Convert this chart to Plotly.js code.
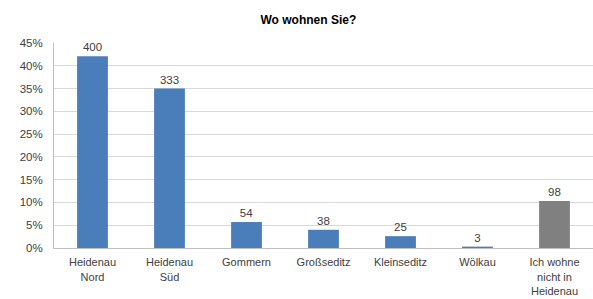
<!DOCTYPE html>
<html><head><meta charset="utf-8">
<script src="https://cdn.plot.ly/plotly-3.0.1.min.js"></script>
<style>html,body{margin:0;padding:0;background:#fff}#chart{width:593px;height:299px}</style>
</head><body><div id="chart"></div>
<script>
const categories = ["Heidenau<br>Nord", "Heidenau<br>Süd", "Gommern", "Großseditz", "Kleinseditz", "Wölkau", "Ich wohne<br>nicht in<br>Heidenau"];
const counts = [400, 333, 54, 38, 25, 3, 98];
const shares = [0.421, 0.350, 0.057, 0.040, 0.026, 0.003, 0.103];
const barColors = ["#4A7EBB", "#4A7EBB", "#4A7EBB", "#4A7EBB", "#4A7EBB", "#4A7EBB", "#808080"];
const yTicks = [0, 0.05, 0.10, 0.15, 0.20, 0.25, 0.30, 0.35, 0.40, 0.45];

const trace = {
  type: 'bar', x: categories, y: shares,
  text: counts.map(String), textposition: 'outside', cliponaxis: false,
  textfont: {family: 'Liberation Sans, Arial, sans-serif', size: 11.5, color: '#404040'},
  marker: {color: barColors}, hoverinfo: 'none'
};
const layout = {
  width: 593, height: 299,
  margin: {l: 54, r: 0, t: 43, b: 51, pad: 0},
  paper_bgcolor: '#fff', plot_bgcolor: '#fff',
  font: {family: 'Liberation Sans, Arial, sans-serif', size: 11.5, color: '#404040'},
  title: {text: '<b>Wo wohnen Sie?</b>', x: 0.52, xanchor: 'center', y: 0.933, yanchor: 'middle',
          font: {size: 12, color: '#000'}},
  bargap: 0.6,
  showlegend: false,
  xaxis: {type: 'category', showgrid: false, showline: true, linecolor: '#BFBFBF', linewidth: 1,
          ticks: '', ticklabelstandoff: 4, tickfont: {size: 11, color: '#404040'}, fixedrange: true, zeroline: false},
  yaxis: {range: [0, 0.45], tickvals: yTicks, tickformat: '.0%', showgrid: true, gridcolor: '#D9D9D9',
          showline: true, linecolor: '#BFBFBF', linewidth: 1, zeroline: false, ticks: '',
          ticklabelstandoff: 8, tickfont: {size: 11.5, color: '#404040'}, fixedrange: true}
};
Plotly.newPlot('chart', [trace], layout, {displayModeBar: false, staticPlot: true});
</script></body></html>
